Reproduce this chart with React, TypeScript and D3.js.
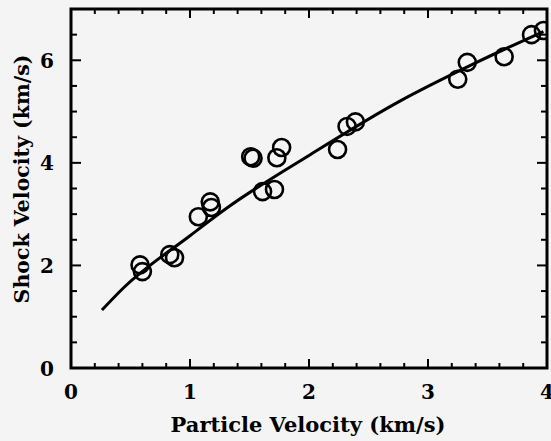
import React from "react";
import * as d3 from "d3";

const particleVelocity = [0.58, 0.60, 0.83, 0.87, 1.07, 1.17, 1.18, 1.51, 1.53, 1.73, 1.77, 1.61, 1.71, 2.24, 2.32, 2.39, 3.25, 3.33, 3.64, 3.87, 3.97];
const shockVelocity = [2.01, 1.88, 2.21, 2.15, 2.95, 3.24, 3.13, 4.12, 4.09, 4.10, 4.30, 3.44, 3.48, 4.26, 4.71, 4.80, 5.63, 5.96, 6.07, 6.50, 6.58];

const fitUp = [0.26, 0.44, 1.0, 1.31, 2.01, 2.76, 3.4, 3.97];
const fitUs = [1.13, 1.56, 2.58, 3.12, 4.16, 5.2, 5.95, 6.56];

const xMajorTicks = [0, 1, 2, 3, 4];
const yMajorTicks = [0, 2, 4, 6];

const W = 551, H = 441;
const left = 71, right = 547, top = 9, bottom = 368;
const FONT = "DejaVu Serif";

export default function App() {
  const x = d3.scaleLinear().domain([0, 4]).range([left, right]);
  const y = d3.scaleLinear().domain([0, 7]).range([bottom, top]);
  const xMinor = d3.range(0, 4.001, 0.2);
  const yMinor = d3.range(0, 7.001, 0.5);
  const isMajorX = (v: number) => Math.abs(v - Math.round(v)) < 1e-6;
  const isMajorY = (v: number) => Math.abs(v / 2 - Math.round(v / 2)) < 1e-6;
  const line = d3.line<number>().x((_, i) => x(fitUp[i])).y((_, i) => y(fitUs[i])).curve(d3.curveMonotoneX);
  return (
    <svg width={W} height={H} style={{ position: "absolute", left: 0, top: 0, background: "#f4f4f4" }}>
      <rect x={0} y={0} width={W} height={H} fill="#f4f4f4" />
      <defs>
        <clipPath id="plot"><rect x={left} y={top} width={right - left} height={bottom - top} /></clipPath>
      </defs>
      <path d={line(fitUp) || ""} fill="none" stroke="#000" strokeWidth={3} />
      <g clipPath="url(#plot)">
        {particleVelocity.map((v, i) => (
          <circle key={i} cx={x(v)} cy={y(shockVelocity[i])} r={8.5} fill="none" stroke="#000" strokeWidth={2.6} />
        ))}
      </g>
      {xMinor.map((v, i) => {
        const len = isMajorX(v) ? 9 : 5;
        return (
          <g key={"xt" + i}>
            <line x1={x(v)} x2={x(v)} y1={bottom} y2={bottom - len} stroke="#000" strokeWidth={2} />
            <line x1={x(v)} x2={x(v)} y1={top} y2={top + len} stroke="#000" strokeWidth={2} />
          </g>
        );
      })}
      {yMinor.map((v, i) => {
        const len = isMajorY(v) ? 10 : 6;
        return (
          <g key={"yt" + i}>
            <line x1={left} x2={left + len} y1={y(v)} y2={y(v)} stroke="#000" strokeWidth={2} />
            <line x1={right} x2={right - len} y1={y(v)} y2={y(v)} stroke="#000" strokeWidth={2} />
          </g>
        );
      })}
      <rect x={left} y={top} width={right - left} height={bottom - top} fill="none" stroke="#000" strokeWidth={3} />
      {xMajorTicks.map((v) => (
        <text key={"xl" + v} x={x(v)} y={399} textAnchor="middle" fontFamily={FONT} fontWeight="bold" fontSize={20} fill="#000">{v}</text>
      ))}
      {yMajorTicks.map((v) => (
        <text key={"yl" + v} x={54} y={y(v) + 7.5} textAnchor="end" fontFamily={FONT} fontWeight="bold" fontSize={20} fill="#000">{v}</text>
      ))}
      <text x={308} y={432} textAnchor="middle" fontFamily={FONT} fontWeight="bold" fontSize={21} fill="#000">Particle Velocity (km/s)</text>
      <text transform="translate(29,179) rotate(-90)" textAnchor="middle" fontFamily={FONT} fontWeight="bold" fontSize={20.5} fill="#000">Shock Velocity (km/s)</text>
    </svg>
  );
}
